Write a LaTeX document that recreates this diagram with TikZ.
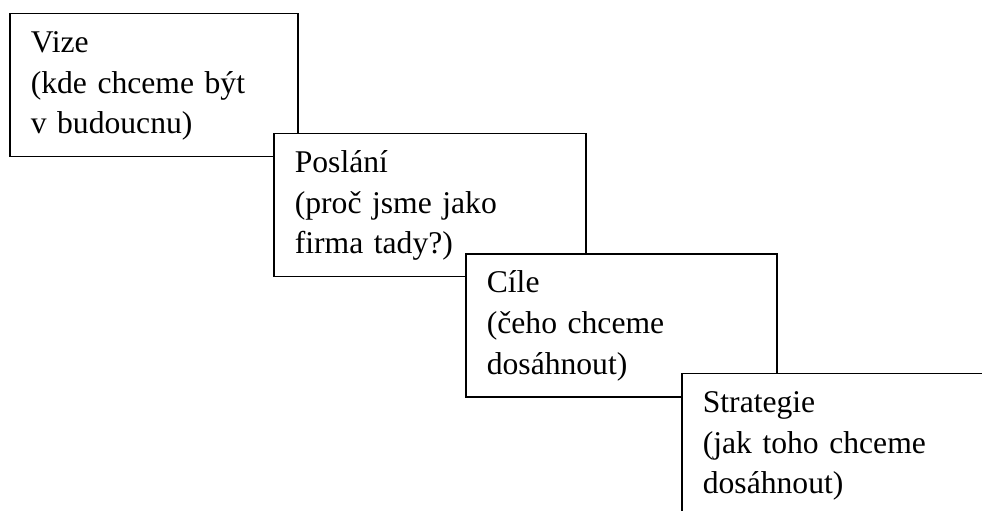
\documentclass[tikz,border=0pt]{standalone}
\usepackage{fontspec}
\setmainfont{Liberation Serif}
\begin{document}
\begin{tikzpicture}[x=0.02cm, y=-0.02cm]
	% Estilos para os nós
	\tikzstyle{stepbox} = [rectangle, draw=black, fill=white, line width=0.95pt, anchor=north west, inner xsep=0.42cm, inner ysep=0pt, text height=0.78cm, text depth=2.08cm, align=left, font=\fontsize{18}{20.6}\selectfont]
	\useasboundingbox (0,0) rectangle (982,510);
	\clip (0,0) rectangle (982,510);
	% Nós
	\node (vize) [stepbox, text width=4.92cm] at (9,12.7) {Vize\\[2.5pt](kde chceme být\\[2.5pt]v budoucnu)};
	\node (poslani) [stepbox, text width=5.4cm] at (273,132.7) {Poslání\\[2.5pt](proč jsme jako\\[2.5pt]firma tady?)};
	\node (cile) [stepbox, text width=5.38cm] at (465,253) {Cíle\\[2.5pt](čeho chceme\\[2.5pt]dosáhnout)};
	\node (strategie) [stepbox, text width=5.38cm] at (681,372.7) {Strategie\\[2.5pt](jak toho chceme\\[2.5pt]dosáhnout)};
\end{tikzpicture}
\end{document}
